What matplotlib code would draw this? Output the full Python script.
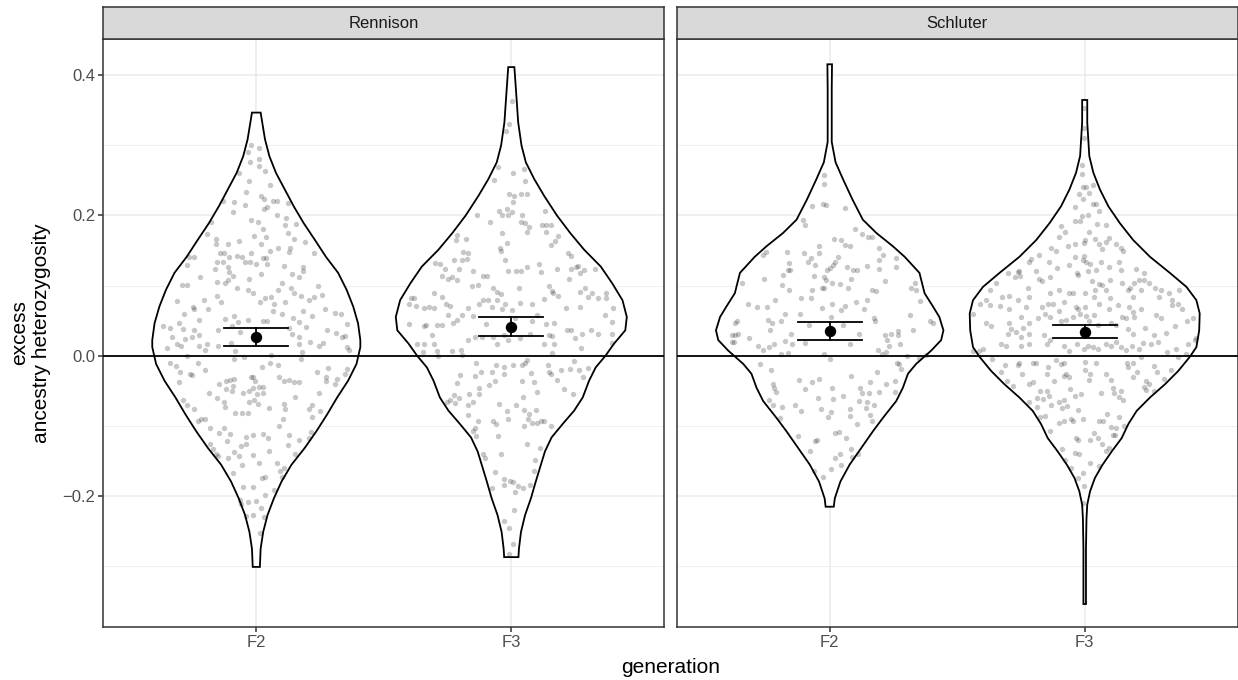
import numpy as np
import matplotlib.pyplot as plt
from matplotlib.ticker import FuncFormatter

plt.rcParams['font.family'] = ['Liberation Sans', 'DejaVu Sans']

panels = ["Rennison", "Schluter"]
generations = ["F2", "F3"]

# violin outlines: y level and half width (category units)
rennison_f2_y = [-0.302, -0.276, -0.252, -0.228, -0.204, -0.180, -0.156, -0.132, -0.108, -0.084, -0.060, -0.036,
                 -0.012, 0.012, 0.022, 0.046, 0.070, 0.094, 0.118, 0.141, 0.165, 0.189, 0.213, 0.237, 0.261, 0.285,
                 0.309, 0.347]
rennison_f2_w = [0.014, 0.017, 0.027, 0.044, 0.069, 0.099, 0.138, 0.190, 0.236, 0.278, 0.317, 0.360,
                 0.393, 0.408, 0.408, 0.399, 0.380, 0.354, 0.321, 0.273, 0.230, 0.186, 0.147, 0.112, 0.077, 0.051,
                 0.034, 0.017]
rennison_f3_y = [-0.288, -0.276, -0.252, -0.228, -0.204, -0.180, -0.156, -0.137, -0.117, -0.098, -0.079, -0.060,
                 -0.036, -0.017, 0.0, 0.017, 0.036, 0.055, 0.079, 0.103, 0.127, 0.151, 0.175, 0.200, 0.228, 0.252,
                 0.276, 0.300, 0.333, 0.381, 0.412]
rennison_f3_w = [0.028, 0.030, 0.038, 0.054, 0.077, 0.096, 0.116, 0.132, 0.158, 0.201, 0.246, 0.280,
                 0.305, 0.331, 0.370, 0.403, 0.447, 0.453, 0.436, 0.396, 0.351, 0.286, 0.231, 0.179, 0.129, 0.090,
                 0.057, 0.040, 0.027, 0.018, 0.012]
schluter_f2_y = [-0.216, -0.204, -0.180, -0.156, -0.132, -0.108, -0.089, -0.065, -0.046, -0.026, -0.012, 0.007,
                 0.022, 0.036, 0.055, 0.070, 0.089, 0.118, 0.141, 0.156, 0.175, 0.194, 0.223, 0.252, 0.276, 0.305,
                 0.381, 0.416]
schluter_f2_w = [0.016, 0.020, 0.042, 0.078, 0.124, 0.170, 0.209, 0.261, 0.287, 0.307, 0.339, 0.398,
                 0.437, 0.446, 0.430, 0.405, 0.372, 0.352, 0.294, 0.248, 0.183, 0.130, 0.089, 0.052, 0.023, 0.008,
                 0.008, 0.009]
schluter_f3_y = [-0.355, -0.276, -0.233, -0.213, -0.194, -0.175, -0.156, -0.137, -0.118, -0.098, -0.079, -0.060,
                 -0.041, -0.022, -0.002, 0.012, 0.036, 0.060, 0.079, 0.098, 0.118, 0.141, 0.165, 0.189, 0.213,
                 0.237, 0.261, 0.285, 0.333, 0.365]
schluter_f3_w = [0.005, 0.005, 0.007, 0.010, 0.021, 0.040, 0.070, 0.106, 0.145, 0.171, 0.204, 0.256,
                 0.315, 0.367, 0.412, 0.438, 0.449, 0.451, 0.438, 0.399, 0.334, 0.256, 0.190, 0.138, 0.093,
                 0.060, 0.034, 0.018, 0.010, 0.010]

# individuals: (jitter offset, excess heterozygosity)
rennison_f2_pts = [
    (-0.021, 0.301), (0.009, 0.297), (-0.034, 0.290), (-0.025, 0.276), (0.009, 0.280), (0.009, 0.270),
    (-0.069, 0.260), (0.034, 0.264), (-0.030, 0.249), (0.055, 0.244), (-0.040, 0.234), (-0.086, 0.219),
    (-0.132, 0.220), (-0.044, 0.215), (-0.090, 0.205), (0.020, 0.228), (0.030, 0.223), (0.064, 0.221),
    (0.081, 0.220), (0.042, 0.212), (0.031, 0.209), (0.083, 0.201), (0.125, 0.218), (-0.021, 0.194),
    (0.005, 0.190), (0.116, 0.197), (0.155, 0.188), (0.114, 0.187), (-0.179, 0.191), (-0.194, 0.174),
    (-0.010, 0.171), (0.027, 0.180), (0.038, 0.170), (0.123, 0.175), (0.146, 0.166), (-0.158, 0.166),
    (-0.160, 0.160), (-0.112, 0.159), (-0.069, 0.164), (0.018, 0.160), (0.055, 0.149), (0.087, 0.153),
    (0.133, 0.154), (0.190, 0.162), (0.129, 0.148), (0.227, 0.146), (-0.265, 0.141), (-0.273, 0.130),
    (-0.245, 0.141), (-0.142, 0.146), (-0.125, 0.147), (-0.155, 0.133), (-0.129, 0.133), (-0.106, 0.141),
    (-0.076, 0.142), (-0.056, 0.141), (-0.021, 0.146), (-0.043, 0.133), (-0.025, 0.133), (-0.001, 0.131),
    (0.025, 0.139), (0.038, 0.140), (0.040, 0.131), (0.107, 0.128), (0.184, 0.127), (0.140, 0.117),
    (0.166, 0.112), (0.185, 0.121), (-0.163, 0.124), (-0.112, 0.126), (-0.106, 0.120), (-0.093, 0.113),
    (-0.112, 0.108), (-0.121, 0.103), (-0.219, 0.112), (-0.154, 0.105), (-0.030, 0.109), (0.018, 0.117),
    (0.100, 0.104), (-0.031, 0.094), (-0.012, 0.090), (-0.077, 0.097), (-0.154, 0.085), (0.138, 0.097),
    (0.149, 0.090), (0.086, 0.093), (0.057, 0.084), (0.034, 0.082), (0.016, 0.076), (0.070, 0.073),
    (0.114, 0.076), (0.175, 0.085), (0.205, 0.080), (0.227, 0.084), (0.243, 0.099), (0.256, 0.086),
    (-0.291, 0.101), (-0.273, 0.101), (-0.312, 0.078), (-0.283, 0.059), (-0.249, 0.070), (-0.245, 0.067),
    (-0.206, 0.080), (-0.188, 0.067), (-0.138, 0.077), (-0.223, 0.051), (-0.121, 0.052), (-0.086, 0.057),
    (-0.073, 0.048), (-0.034, 0.051), (0.025, 0.050), (0.042, 0.050), (0.064, 0.064), (0.100, 0.059),
    (0.142, 0.054), (0.167, 0.048), (0.184, 0.064), (0.220, 0.056), (0.271, 0.066), (0.308, 0.061),
    (0.331, 0.060), (0.354, 0.045), (-0.367, 0.042), (-0.340, 0.040), (-0.304, 0.046), (-0.288, 0.038),
    (-0.243, 0.037), (-0.151, 0.036), (-0.095, 0.042), (-0.064, 0.033), (0.127, 0.039), (0.141, 0.031),
    (0.166, 0.027), (0.194, 0.041), (0.279, 0.036), (0.312, 0.032), (0.338, 0.027), (0.348, 0.028),
    (-0.330, 0.026), (-0.278, 0.023), (-0.252, 0.026), (-0.223, 0.029),
    (-0.350, 0.011), (-0.312, 0.017), (-0.295, 0.014), (-0.223, 0.014), (-0.200, 0.008), (-0.194, 0.017),
    (-0.151, 0.013), (-0.099, 0.018), (-0.082, 0.006), (-0.086, -0.005), (-0.047, -0.002), (0.057, 0.001),
    (0.168, 0.017), (0.179, 0.005), (0.175, -0.005), (0.210, 0.019), (0.244, 0.013), (0.262, 0.018),
    (0.357, 0.012), (0.364, 0.008), (-0.271, 0.000), (-0.340, -0.010), (-0.314, -0.015), (-0.301, -0.024),
    (-0.305, -0.038), (-0.260, -0.026), (-0.252, -0.028), (-0.230, -0.010), (-0.200, -0.021), (-0.145, -0.041),
    (-0.119, -0.037), (-0.103, -0.035), (-0.086, -0.034), (-0.093, -0.043), (-0.119, -0.048), (-0.095, -0.051),
    (-0.184, -0.053), (-0.155, -0.061), (-0.125, -0.066), (-0.121, -0.073), (-0.082, -0.082), (-0.056, -0.082),
    (-0.031, -0.082), (-0.051, -0.054), (-0.030, -0.051), (-0.021, -0.031), (-0.014, -0.031), (-0.005, -0.036),
    (-0.014, -0.047), (0.003, -0.055), (0.025, -0.054), (0.009, -0.045), (0.025, -0.045), (-0.027, -0.066),
    (0.005, -0.069), (-0.010, -0.063), (0.022, -0.017), (0.053, -0.010), (0.086, -0.013), (0.090, -0.030),
    (0.107, -0.036), (0.129, -0.035), (0.149, -0.038), (0.166, -0.038), (-0.286, -0.063), (-0.273, -0.070),
    (-0.243, -0.077), (-0.230, -0.094), (-0.215, -0.090), (-0.200, -0.091), (-0.180, -0.104), (-0.145, -0.110),
    (-0.125, -0.104), (-0.115, -0.122), (-0.103, -0.112), (-0.040, -0.117), (-0.012, -0.114), (0.025, -0.112),
    (0.044, -0.118), (0.090, -0.101), (0.107, -0.069), (0.113, -0.077), (0.103, -0.091), (0.051, -0.075),
    (0.153, -0.059), (0.207, -0.077), (0.220, -0.070), (0.249, -0.079), (0.217, -0.088), (0.244, -0.054),
    (0.239, -0.024), (0.273, -0.030), (0.283, -0.018), (0.275, -0.037), (0.307, -0.041), (0.318, -0.034),
    (0.348, -0.027), (0.354, -0.019), (-0.180, -0.126), (-0.168, -0.134), (-0.150, -0.144), (-0.160, -0.140),
    (-0.112, -0.146), (-0.086, -0.138), (-0.069, -0.144), (-0.060, -0.129), (-0.057, -0.157), (-0.093, -0.168),
    (-0.040, -0.126), (-0.012, -0.142), (0.009, -0.153), (0.021, -0.175), (0.035, -0.174), (0.051, -0.136),
    (0.081, -0.153), (0.093, -0.165), (0.100, -0.173), (0.110, -0.161), (0.123, -0.128), (0.129, -0.114),
    (0.151, -0.141), (0.166, -0.120), (0.207, -0.118), (0.215, -0.109), (-0.053, -0.188), (-0.014, -0.188),
    (-0.064, -0.206), (-0.060, -0.212), (-0.031, -0.209), (-0.001, -0.208), (0.018, -0.218), (0.035, -0.199),
    (-0.040, -0.229), (-0.014, -0.228), (0.030, -0.231), (0.016, -0.254), (0.070, -0.192),
]
rennison_f3_pts = [
    (0.001, 0.363), (-0.008, 0.331), (-0.021, 0.320), (-0.051, 0.269), (-0.067, 0.251), (0.008, 0.260),
    (0.053, 0.249), (0.050, 0.266), (-0.009, 0.231), (0.012, 0.228), (0.038, 0.231), (0.060, 0.231),
    (0.008, 0.219), (-0.048, 0.206), (-0.035, 0.200), (-0.018, 0.209), (0.004, 0.205), (-0.014, 0.200),
    (0.043, 0.200), (-0.136, 0.201), (-0.083, 0.190), (0.038, 0.190), (0.053, 0.189), (0.069, 0.183),
    (0.063, 0.176), (0.119, 0.186), (0.138, 0.186), (0.157, 0.187), (0.132, 0.206), (0.138, 0.176),
    (0.184, 0.171), (0.171, 0.163), (0.154, 0.158), (-0.035, 0.175), (-0.018, 0.161), (-0.040, 0.150),
    (-0.043, 0.153), (-0.211, 0.172), (-0.179, 0.167), (-0.218, 0.165), (-0.188, 0.148), (-0.171, 0.147),
    (-0.192, 0.137), (-0.172, 0.138), (-0.025, 0.137), (-0.299, 0.132), (-0.279, 0.131), (-0.260, 0.123),
    (-0.223, 0.137), (-0.207, 0.123), (-0.151, 0.121), (-0.110, 0.114), (-0.097, 0.114), (-0.014, 0.121),
    (0.018, 0.121), (0.038, 0.121), (0.060, 0.126), (0.108, 0.131), (0.116, 0.119), (0.180, 0.123),
    (0.223, 0.146), (0.236, 0.142), (0.236, 0.124), (0.252, 0.127), (0.262, 0.128), (0.269, 0.118),
    (0.284, 0.122), (0.327, 0.123), (-0.273, 0.114), (-0.249, 0.109), (-0.231, 0.112), (-0.211, 0.108),
    (-0.153, 0.099), (-0.129, 0.101), (-0.070, 0.096), (-0.057, 0.091), (-0.042, 0.088), (0.031, 0.096),
    (0.147, 0.099), (0.158, 0.092), (0.164, 0.089), (0.184, 0.085), (0.226, 0.109), (0.271, 0.091),
    (0.288, 0.097), (0.299, 0.084), (0.317, 0.089), (0.341, 0.082), (0.373, 0.082), (0.371, 0.090),
    (-0.394, 0.082), (-0.380, 0.082), (-0.401, 0.073), (-0.374, 0.071), (-0.344, 0.068), (-0.322, 0.070),
    (-0.304, 0.068), (-0.305, 0.090), (-0.270, 0.084), (-0.256, 0.074), (-0.240, 0.071), (-0.168, 0.068),
    (-0.125, 0.073), (-0.110, 0.079), (-0.090, 0.080), (-0.057, 0.080), (-0.077, 0.070), (-0.025, 0.073),
    (0.001, 0.065), (0.034, 0.075), (0.080, 0.074), (0.129, 0.081), (0.213, 0.068), (0.269, 0.069),
    (0.367, 0.058), (0.399, 0.068), (0.393, 0.048), (-0.401, 0.045), (-0.341, 0.042), (-0.334, 0.044),
    (-0.292, 0.044), (-0.270, 0.043), (-0.250, 0.058), (-0.227, 0.047), (-0.214, 0.051), (-0.192, 0.058),
    (-0.149, 0.057), (-0.100, 0.045), (-0.038, 0.067), (0.014, 0.053), (0.080, 0.050), (0.099, 0.058),
    (0.138, 0.045), (0.168, 0.046), (0.217, 0.037), (0.234, 0.036), (0.278, 0.031), (0.314, 0.037),
    (0.341, 0.031), (0.393, 0.031), (-0.312, 0.030), (-0.142, 0.026), (-0.116, 0.027), (-0.070, 0.026),
    (-0.027, 0.029), (0.034, 0.025), (0.073, 0.031), (0.147, 0.030), (0.160, 0.028), (0.249, 0.025),
    (-0.371, 0.017), (-0.341, 0.017), (-0.305, 0.017), (-0.348, 0.005), (-0.292, 0.007), (-0.286, 0.000),
    (-0.231, 0.007), (-0.197, 0.008), (-0.194, 0.001), (-0.171, 0.022), (-0.057, 0.017), (-0.014, 0.022),
    (0.128, 0.017), (0.167, 0.016), (0.158, 0.003), (0.275, 0.011), (0.393, 0.018), (-0.140, -0.011),
    (-0.201, -0.028), (-0.211, -0.039), (-0.142, -0.029), (-0.119, -0.024), (-0.077, -0.023), (-0.061, -0.014),
    (-0.027, -0.016), (-0.027, -0.027), (0.008, -0.014), (0.043, -0.014), (0.053, -0.010), (0.060, -0.006),
    (0.077, -0.025), (0.090, -0.038), (0.040, -0.036), (-0.064, -0.036), (-0.087, -0.042), (-0.125, -0.046),
    (-0.164, -0.055), (-0.149, -0.067), (-0.171, -0.070), (-0.223, -0.057), (-0.207, -0.060), (-0.253, -0.066),
    (-0.240, -0.064), (-0.220, -0.068), (-0.125, -0.055), (-0.048, -0.069), (-0.018, -0.079), (0.018, -0.071),
    (0.044, -0.059), (0.050, -0.078), (0.069, -0.083), (0.064, -0.090), (0.082, -0.097), (0.099, -0.096),
    (0.095, -0.078), (0.115, -0.093), (0.128, -0.094), (0.155, -0.100), (0.099, -0.052), (0.142, -0.013),
    (0.147, -0.023), (0.154, -0.026), (0.181, -0.035), (0.194, -0.021), (0.205, -0.048), (0.230, -0.019),
    (0.245, -0.008), (0.266, -0.021), (0.282, -0.031), (0.301, -0.018), (0.243, -0.055), (-0.168, -0.085),
    (-0.150, -0.108), (-0.140, -0.115), (-0.129, -0.094), (-0.142, -0.103), (-0.073, -0.093), (-0.061, -0.098),
    (-0.053, -0.115), (-0.012, -0.091), (0.051, -0.100), (0.060, -0.127), (0.112, -0.132), (0.093, -0.149),
    (0.090, -0.165), (-0.040, -0.141), (-0.110, -0.141), (-0.103, -0.146), (-0.064, -0.166), (-0.027, -0.176),
    (-0.027, -0.185), (-0.005, -0.179), (0.008, -0.181), (0.025, -0.186), (0.014, -0.195), (0.047, -0.189),
    (0.075, -0.185), (0.012, -0.220), (-0.075, -0.189), (-0.008, -0.247), (0.008, -0.269), (-0.008, -0.283),
    (-0.030, -0.237),
]
schluter_f2_pts = [
    (-0.022, 0.258), (-0.022, 0.245), (-0.026, 0.217), (-0.013, 0.215), (-0.068, 0.213), (-0.104, 0.194),
    (-0.098, 0.186), (0.061, 0.210), (0.098, 0.181), (0.128, 0.173), (0.150, 0.169), (0.165, 0.170),
    (0.017, 0.167), (0.046, 0.165), (0.059, 0.158), (0.078, 0.157), (-0.043, 0.156), (-0.042, 0.146),
    (-0.100, 0.146), (0.192, 0.153), (-0.166, 0.148), (-0.248, 0.148), (-0.260, 0.144), (0.209, 0.144),
    (0.193, 0.137), (-0.072, 0.139), (-0.087, 0.133), (-0.059, 0.129), (0.022, 0.134), (0.013, 0.129),
    (0.000, 0.125), (0.033, 0.141), (-0.010, 0.122), (0.069, 0.127), (0.107, 0.122), (0.146, 0.128),
    (0.193, 0.123), (0.261, 0.139), (0.261, 0.127), (-0.159, 0.132), (-0.163, 0.122), (-0.154, 0.122),
    (-0.183, 0.115), (-0.258, 0.109), (-0.342, 0.103), (-0.061, 0.113), (-0.023, 0.112), (-0.013, 0.108),
    (0.091, 0.122), (0.085, 0.110), (0.072, 0.097), (0.009, 0.104), (0.042, 0.102), (-0.029, 0.097),
    (-0.023, 0.096), (-0.068, 0.094), (-0.159, 0.094), (-0.189, 0.101), (0.215, 0.107), (0.167, 0.094),
    (0.183, 0.092), (0.333, 0.103), (0.339, 0.094), (0.320, 0.096), (-0.114, 0.082), (-0.072, 0.082),
    (-0.320, 0.073), (-0.287, 0.070), (-0.244, 0.070), (-0.214, 0.079), (-0.176, 0.060), (-0.117, 0.059),
    (-0.029, 0.068), (0.009, 0.073), (0.043, 0.065), (0.059, 0.071), (0.102, 0.077), (0.134, 0.066),
    (0.146, 0.080), (0.172, 0.054), (0.176, 0.049), (0.316, 0.058), (0.355, 0.078), (0.395, 0.050),
    (0.404, 0.046), (-0.372, 0.047), (-0.365, 0.050), (-0.241, 0.051), (-0.228, 0.046), (-0.192, 0.049),
    (-0.081, 0.043), (0.007, 0.055), (0.052, 0.043), (0.115, 0.031), (0.215, 0.029), (0.241, 0.031),
    (0.267, 0.029), (0.267, 0.035), (0.326, 0.037), (-0.385, 0.029), (-0.372, 0.030), (-0.359, 0.031),
    (-0.316, 0.025), (-0.235, 0.036), (-0.150, 0.031),
    (-0.385, 0.019), (-0.376, 0.019), (-0.280, 0.013), (-0.261, 0.008), (-0.237, 0.012), (-0.219, 0.016),
    (-0.176, 0.021), (-0.192, 0.002), (-0.163, 0.003), (-0.146, 0.016), (-0.098, 0.018), (-0.023, 0.002),
    (0.003, -0.005), (0.081, 0.017), (0.189, 0.008), (0.206, 0.002), (0.219, 0.005), (0.232, 0.013),
    (0.224, 0.022), (0.277, 0.016), (0.303, -0.001), (0.352, -0.003), (0.376, 0.001), (-0.274, -0.012),
    (-0.232, -0.021), (-0.224, -0.040), (-0.219, -0.046), (-0.209, -0.052), (-0.240, -0.064), (-0.222, -0.070),
    (-0.188, -0.073), (-0.195, -0.089), (-0.136, -0.070), (-0.114, -0.079), (-0.120, -0.035), (-0.097, -0.048),
    (-0.068, -0.038), (-0.043, -0.034), (-0.044, -0.061), (-0.034, -0.077), (-0.005, -0.088), (0.005, -0.080),
    (0.010, -0.047), (0.012, -0.062), (0.051, -0.058), (0.085, -0.029), (0.080, -0.077), (0.080, -0.086),
    (0.107, -0.098), (0.115, -0.065), (0.120, -0.046), (0.128, -0.053), (0.154, -0.053), (0.157, -0.038),
    (0.144, -0.075), (0.146, -0.066), (0.157, -0.085), (0.175, -0.070), (0.165, -0.094), (0.185, -0.024),
    (0.193, -0.052), (0.219, -0.040), (0.256, -0.036), (0.264, -0.010), (0.271, -0.012), (0.280, -0.019),
    (0.255, -0.052), (-0.124, -0.115), (-0.056, -0.122), (-0.048, -0.120), (-0.078, -0.137), (-0.060, -0.165),
    (-0.026, -0.174), (0.004, -0.162), (0.021, -0.147), (0.021, -0.111), (0.037, -0.109), (0.039, -0.140),
    (0.046, -0.157), (0.065, -0.118), (0.085, -0.133), (0.089, -0.145), (0.110, -0.141),
]
schluter_f3_pts = [
    (-0.001, 0.353), (-0.004, 0.325), (-0.001, 0.310), (-0.010, 0.272), (-0.010, 0.259), (-0.008, 0.240),
    (0.005, 0.240), (0.016, 0.232), (0.031, 0.244), (-0.021, 0.231), (-0.008, 0.224), (-0.039, 0.212),
    (0.031, 0.217), (0.044, 0.217), (0.057, 0.207), (-0.040, 0.192), (-0.010, 0.199), (-0.018, 0.192),
    (0.012, 0.200), (0.048, 0.188), (0.083, 0.187), (-0.093, 0.185), (-0.076, 0.177), (0.018, 0.176),
    (0.042, 0.166), (0.000, 0.165), (-0.099, 0.170), (-0.132, 0.153), (-0.112, 0.150), (-0.181, 0.144),
    (-0.067, 0.156), (-0.037, 0.160), (-0.001, 0.161), (0.055, 0.160), (0.083, 0.162), (0.123, 0.160),
    (0.094, 0.168), (0.142, 0.153), (0.151, 0.150), (0.067, 0.152), (-0.001, 0.142), (-0.008, 0.137),
    (0.005, 0.134), (0.021, 0.131), (-0.037, 0.141), (-0.060, 0.129), (-0.141, 0.133), (-0.210, 0.138),
    (-0.217, 0.134), (-0.108, 0.125), (-0.258, 0.121), (-0.275, 0.112), (-0.253, 0.113), (-0.190, 0.121),
    (-0.180, 0.109), (-0.167, 0.107), (-0.223, 0.096), (-0.136, 0.112), (-0.031, 0.118), (-0.027, 0.115),
    (0.012, 0.121), (0.044, 0.122), (0.064, 0.134), (0.097, 0.127), (0.133, 0.133), (0.142, 0.122),
    (0.100, 0.108), (0.029, 0.107), (0.055, 0.102), (0.068, 0.101), (0.083, 0.094), (0.042, 0.094),
    (0.003, 0.089), (-0.060, 0.090), (-0.047, 0.090), (-0.099, 0.094), (-0.138, 0.090), (-0.080, 0.077),
    (-0.034, 0.070), (-0.027, 0.066), (0.003, 0.070), (0.038, 0.084), (0.057, 0.074), (0.099, 0.082),
    (0.146, 0.103), (0.177, 0.097), (0.192, 0.104), (0.201, 0.123), (0.231, 0.118), (0.211, 0.108),
    (0.234, 0.108), (0.168, 0.094), (0.188, 0.083), (0.220, 0.094), (0.253, 0.103), (0.277, 0.096),
    (0.299, 0.094), (0.292, 0.083), (0.331, 0.090), (0.371, 0.093), (0.344, 0.080), (0.364, 0.074),
    (-0.300, 0.118), (-0.262, 0.120), (-0.347, 0.104), (-0.373, 0.094), (-0.297, 0.085), (-0.324, 0.084),
    (-0.331, 0.071), (-0.295, 0.067), (-0.386, 0.079), (-0.373, 0.072), (-0.412, 0.074), (-0.438, 0.060),
    (-0.262, 0.079), (-0.232, 0.070), (-0.217, 0.084), (-0.167, 0.070), (-0.145, 0.073), (-0.125, 0.074),
    (-0.154, 0.059), (-0.138, 0.055), (-0.184, 0.054), (-0.217, 0.047), (-0.249, 0.055), (-0.295, 0.047),
    (-0.386, 0.046), (-0.367, 0.042), (-0.288, 0.038), (-0.243, 0.040), (-0.269, 0.033), (-0.301, 0.031),
    (-0.249, 0.026), (-0.217, 0.031), (-0.158, 0.030), (-0.099, 0.064), (-0.093, 0.049), (-0.073, 0.051),
    (-0.047, 0.055), (-0.017, 0.060), (0.005, 0.056), (0.038, 0.058), (0.018, 0.049), (0.051, 0.043),
    (0.103, 0.047), (0.097, 0.066), (0.129, 0.072), (0.175, 0.070), (0.145, 0.055), (0.162, 0.053),
    (0.188, 0.062), (0.194, 0.055), (0.220, 0.066), (0.237, 0.040), (0.279, 0.058), (0.299, 0.053),
    (0.344, 0.072), (0.381, 0.066), (0.403, 0.049), (0.425, 0.053), (0.355, 0.042), (0.318, 0.032),
    (0.273, 0.029), (0.188, 0.031), (0.168, 0.038), (0.123, 0.043), (0.438, 0.025),
    (-0.438, 0.007), (-0.415, 0.006), (-0.397, 0.010), (-0.363, -0.005), (-0.327, 0.017), (-0.308, 0.013),
    (-0.249, 0.014), (-0.217, 0.016), (-0.149, 0.017), (-0.138, 0.022), (-0.080, 0.013), (-0.060, 0.007),
    (-0.031, 0.017), (-0.001, 0.010), (0.012, 0.014), (0.031, 0.012), (0.051, 0.010), (0.083, 0.017),
    (0.103, 0.014), (0.123, 0.019), (0.142, 0.012), (0.162, 0.008), (0.185, 0.014), (0.214, 0.010),
    (0.230, 0.018), (0.260, 0.017), (0.286, 0.019), (0.321, 0.005), (0.357, 0.010), (0.407, 0.017),
    (0.433, 0.022), (0.397, 0.002), (-0.311, -0.013), (-0.330, -0.024), (-0.305, -0.036), (-0.280, -0.043),
    (-0.256, -0.010), (-0.262, -0.013), (-0.245, -0.026), (-0.217, -0.041), (-0.201, -0.038), (-0.201, -0.011),
    (-0.190, -0.011), (-0.175, -0.050), (-0.149, -0.050), (-0.141, -0.058), (-0.164, -0.062), (-0.149, -0.026),
    (-0.145, -0.017), (-0.112, -0.006), (-0.119, -0.037), (-0.093, -0.012), (-0.083, -0.010), (-0.073, -0.026),
    (-0.080, -0.029), (-0.060, -0.030), (-0.056, -0.048), (-0.040, -0.058), (-0.014, -0.055), (0.003, -0.021),
    (0.003, -0.009), (0.018, -0.035), (0.021, -0.026), (0.044, -0.011), (0.064, -0.053), (0.083, -0.027),
    (0.103, -0.035), (0.110, -0.046), (0.116, -0.053), (0.136, -0.059), (0.142, -0.050), (0.151, -0.064),
    (0.168, -0.017), (0.188, -0.031), (0.207, -0.024), (0.220, -0.002), (0.234, -0.045), (0.240, -0.036),
    (0.240, -0.049), (0.253, -0.041), (0.270, -0.015), (0.282, -0.024), (0.270, -0.050), (0.310, -0.034),
    (0.338, -0.021), (0.364, -0.002), (0.166, -0.010), (0.188, -0.010), (-0.220, -0.067), (-0.187, -0.074),
    (-0.175, -0.088), (-0.154, -0.086), (-0.138, -0.108), (-0.102, -0.096), (-0.083, -0.094), (-0.089, -0.075),
    (-0.070, -0.072), (-0.053, -0.090), (-0.047, -0.093), (-0.027, -0.078), (-0.008, -0.091), (0.038, -0.110),
    (0.055, -0.094), (0.073, -0.094), (0.086, -0.083), (0.103, -0.102), (0.123, -0.103), (0.136, -0.088),
    (0.153, -0.100), (0.120, -0.113), (-0.082, -0.064), (-0.102, -0.067), (-0.132, -0.070), (-0.188, -0.060),
    (-0.034, -0.118), (-0.027, -0.120), (0.021, -0.120), (0.051, -0.118), (0.068, -0.126), (0.083, -0.137),
    (0.097, -0.132), (0.112, -0.114), (-0.090, -0.134), (-0.076, -0.149), (-0.053, -0.161), (-0.027, -0.175),
    (-0.008, -0.168), (-0.023, -0.141), (-0.040, -0.139), (0.022, -0.153), (0.055, -0.158), (-0.001, -0.187),
    (-0.005, -0.211),
]

rennison_mean = [0.026, 0.041]
rennison_lo = [0.014, 0.028]
rennison_hi = [0.040, 0.055]
schluter_mean = [0.035, 0.034]
schluter_lo = [0.022, 0.025]
schluter_hi = [0.048, 0.043]

outlines = {
    "Rennison": [(rennison_f2_y, rennison_f2_w), (rennison_f3_y, rennison_f3_w)],
    "Schluter": [(schluter_f2_y, schluter_f2_w), (schluter_f3_y, schluter_f3_w)],
}
points = {"Rennison": [rennison_f2_pts, rennison_f3_pts], "Schluter": [schluter_f2_pts, schluter_f3_pts]}
summary = {"Rennison": (rennison_mean, rennison_lo, rennison_hi),
           "Schluter": (schluter_mean, schluter_lo, schluter_hi)}

W, H = 1238, 680
fig = plt.figure(figsize=(W / 100, H / 100), dpi=100)
lefts = [103.3, 676.7]
pw = 561.0
ptop, pbot, stop = 39.3, 626.7, 6.7
dark = '#333333'

for k, name in enumerate(panels):
    ax = fig.add_axes([lefts[k] / W, 1 - pbot / H, pw / W, (pbot - ptop) / H])
    ax.set_xlim(0.4, 2.6)
    ax.set_ylim(-0.3874, 0.4517)
    ax.set_xticks([1, 2])
    ax.set_xticklabels(generations)
    ax.set_yticks([-0.2, 0.0, 0.2, 0.4])
    ax.set_yticks([-0.3, -0.1, 0.1, 0.3], minor=True)
    ax.yaxis.set_major_formatter(FuncFormatter(lambda v, p: f"{v:.1f}".replace("-", "\u2212")))
    ax.grid(which='major', color='#EBEBEB', lw=1.1)
    ax.grid(which='minor', axis='y', color='#EBEBEB', lw=0.55)
    ax.set_axisbelow(True)
    for s in ax.spines.values():
        s.set_color(dark)
        s.set_linewidth(1.1)
    ax.tick_params(which='major', length=3.8, width=1.1, color=dark, labelcolor='#4D4D4D',
                   labelsize=12, pad=2)
    ax.tick_params(which='minor', length=0)
    if k == 1:
        ax.tick_params(axis='y', labelleft=False, length=0)

    for g in range(2):
        pos = g + 1
        ys, ws = outlines[name][g]
        ys = np.array(ys)
        ws = np.array(ws)
        xs = np.concatenate([pos - ws, (pos + ws)[::-1]])
        yy = np.concatenate([ys, ys[::-1]])
        ax.fill(xs, yy, facecolor='white', edgecolor='black', lw=1.3, zorder=2)
        pts = np.array(points[name][g])
        ax.scatter(pos + pts[:, 0], pts[:, 1], s=15, color='black', alpha=0.22, linewidths=0, zorder=3)

    ax.axhline(0, color='black', lw=1.3, zorder=4)
    mean, lo, hi = summary[name]
    for g in range(2):
        pos = g + 1
        ax.plot([pos - 0.125, pos + 0.125], [lo[g], lo[g]], color='black', lw=1.3, zorder=5)
        ax.plot([pos - 0.125, pos + 0.125], [hi[g], hi[g]], color='black', lw=1.3, zorder=5)
        ax.plot([pos, pos], [lo[g], hi[g]], color='black', lw=1.3, zorder=5)
    ax.plot([1, 2], mean, 'o', color='black', ms=7.2, ls='none', zorder=6)

    sax = fig.add_axes([lefts[k] / W, 1 - ptop / H, pw / W, (ptop - stop) / H])
    sax.set_facecolor('#D9D9D9')
    sax.set_xticks([])
    sax.set_yticks([])
    for s in sax.spines.values():
        s.set_color(dark)
        s.set_linewidth(1.1)
    sax.text(0.5, 0.5, name, ha='center', va='center', fontsize=12, color='#1A1A1A',
             transform=sax.transAxes)

fig.text((lefts[0] + lefts[1] + pw) / 2 / W, 1 - 673 / H, "generation", ha='center', va='baseline', fontsize=15)
fig.text(31 / W, 1 - 333 / H, "excess\nancestry heterozygosity", rotation=90, ha='center', va='center',
         multialignment='center', fontsize=15, linespacing=1.2)

fig.savefig("out.png", dpi=100)
